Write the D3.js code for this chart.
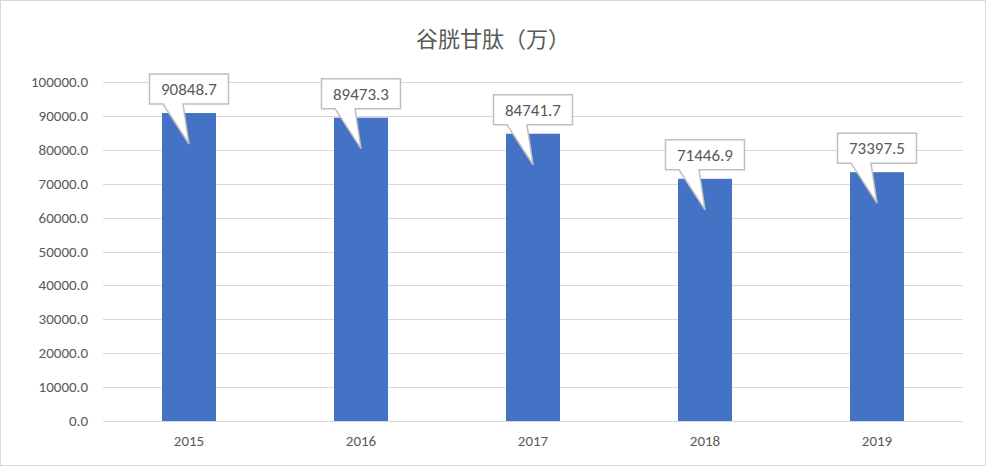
<!DOCTYPE html>
<html><head><meta charset="utf-8">
<script src="https://cdn.jsdelivr.net/npm/d3@7"></script>
<style>body{margin:0;background:#fff}</style>
</head><body>
<svg id="c" width="987" height="467"></svg>
<script>
var years = ['2015','2016','2017','2018','2019'];
var values = [90848.7, 89473.3, 84741.7, 71446.9, 73397.5];
var ticks = [0,10000,20000,30000,40000,50000,60000,70000,80000,90000,100000];

var svg = d3.select('#c');
var font = 'Calibri, "Liberation Sans", "Noto Sans CJK SC", sans-serif';
svg.append('rect').attr('x',0.5).attr('y',0.5).attr('width',985).attr('height',465)
  .attr('fill','#fff').attr('stroke','#d9d9d9');

var x = d3.scaleBand().domain(years).range([103,963]).paddingInner(0.686).paddingOuter(0.343);
var y = d3.scaleLinear().domain([0,100000]).range([421,82]);

// grid
svg.selectAll('.g').data(ticks).enter().append('line')
  .attr('x1',103).attr('x2',963)
  .attr('y1',function(d){return Math.round(y(d))+0.5;})
  .attr('y2',function(d){return Math.round(y(d))+0.5;})
  .attr('stroke','#d9d9d9');

svg.selectAll('.yl').data(ticks).enter().append('text')
  .attr('x',88).attr('y',function(d){return y(d)+5;})
  .attr('text-anchor','end').attr('font-family',font).attr('font-size',15).attr('fill','#595959')
  .text(function(d){return d.toFixed(1);});

svg.selectAll('.xl').data(years).enter().append('text')
  .attr('x',function(d){return x(d)+x.bandwidth()/2;}).attr('y',446)
  .attr('text-anchor','middle').attr('font-family',font).attr('font-size',15).attr('fill','#595959')
  .text(function(d){return d;});

svg.selectAll('.bar').data(values).enter().append('rect')
  .attr('x',function(d,i){return x(years[i]);})
  .attr('y',function(d){return y(d);})
  .attr('width',x.bandwidth())
  .attr('height',function(d){return y(0)-y(d);})
  .attr('fill','#4472c4');

// callouts
values.forEach(function(v,i){
  var cx = x(years[i])+x.bandwidth()/2, top = y(v);
  var bw = 79, bh = 30, bb = top-9, bl = cx-bw/2, bt = bb-bh;
  var path = 'M'+bl+','+bt+' H'+(bl+bw)+' V'+bb+' H'+(cx-6)+' L'+cx+','+(top+31)+
    ' L'+(cx-26)+','+bb+' H'+bl+' Z';
  svg.append('path').attr('d',path).attr('fill','#fff').attr('stroke','#bfbfbf').attr('stroke-width',1.5);
  svg.append('text').attr('x',cx).attr('y',bt+21).attr('text-anchor','middle')
    .attr('font-family',font).attr('font-size',17).attr('fill','#595959').text(v.toFixed(1));
});

svg.append('text').attr('x',493).attr('y',47).attr('text-anchor','middle')
  .attr('font-family','"Noto Sans CJK SC", sans-serif').attr('font-size',22).attr('fill','#595959')
  .text('谷胱甘肽（万）');
</script>
</body></html>
